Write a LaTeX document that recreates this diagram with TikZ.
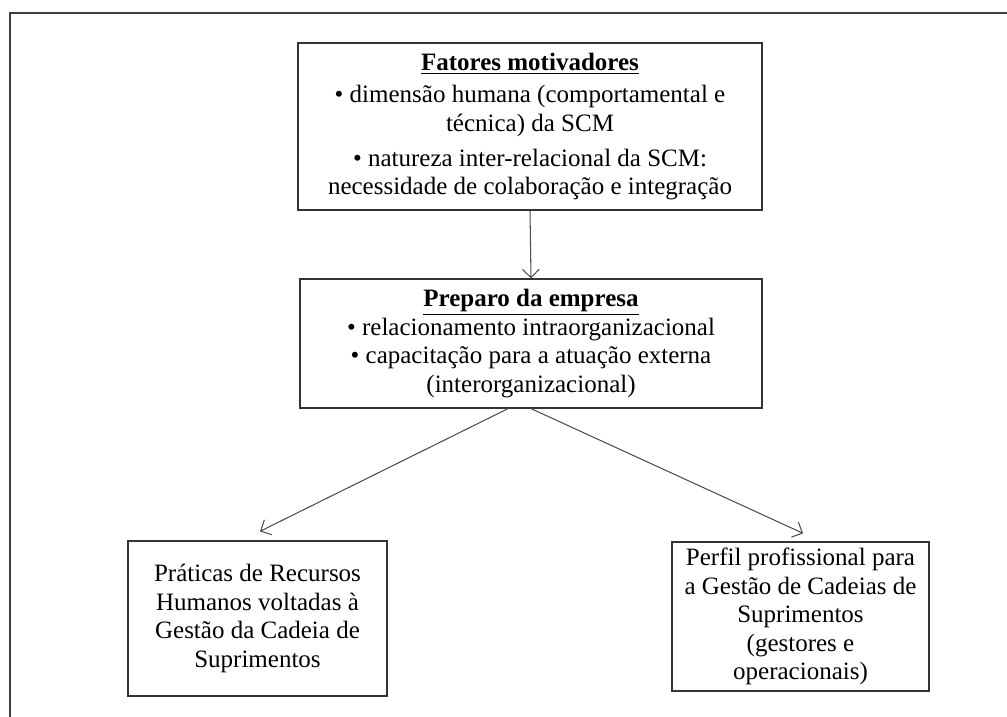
\documentclass[tikz,border=0pt]{standalone}
\usepackage{fontspec}
\setmainfont{Liberation Serif}
\usetikzlibrary{arrows.meta}
\tikzset{
  caixa/.style={draw=black!80, line width=0.6pt, align=center, inner sep=2pt,
    font=\fontsize{12pt}{13.7pt}\selectfont},
  seta/.style={draw=black!70, line width=0.5pt, -{Straight Barb[length=4pt,width=8pt]}}
}

\begin{document}
\begin{tikzpicture}[x=0.48pt,y=-0.48pt]
\useasboundingbox (0,0) rectangle (1007,717);
\draw[line width=0.7pt, black!75] (1007,13) -- (10,13) -- (10,717);
\node[caixa, minimum width=222.7pt, minimum height=80.2pt] (fatores) at (530,126.5)
  {\underline{\textbf{Fatores motivadores}}\\[2pt]
   \textbullet\ dimensão humana (comportamental e\\
   técnica) da SCM\\[3pt]
   \textbullet\ natureza inter-relacional da SCM:\\
   necessidade de colaboração e integração};
\node[caixa, minimum width=221.8pt, minimum height=61.9pt] (preparo) at (531,343.5)
  {\underline{\textbf{Preparo da empresa}}\\
   \textbullet\ relacionamento intraorganizacional\\
   \textbullet\ capacitação para a atuação externa\\
   (interorganizacional)};
\node[caixa, minimum width=124.3pt, minimum height=74.4pt] (praticas) at (257.5,618.5)
  {Práticas de Recursos\\ Humanos voltadas à\\ Gestão da Cadeia de\\ Suprimentos};
\node[caixa, minimum width=123.4pt, minimum height=71.5pt] (perfil) at (800.5,616.5)
  {Perfil profissional para\\ a Gestão de Cadeias de\\ Suprimentos\\ (gestores e\\ operacionais)};
\draw[seta] (fatores.south) -- (preparo.north);
\draw[seta, shorten >=9.8pt] ([xshift=-11pt]preparo.south) -- ([xshift=-7.6pt]praticas.north);
\draw[seta, shorten >=9.3pt] (preparo.south) -- ([xshift=9.7pt]perfil.north);
\end{tikzpicture}
\end{document}
